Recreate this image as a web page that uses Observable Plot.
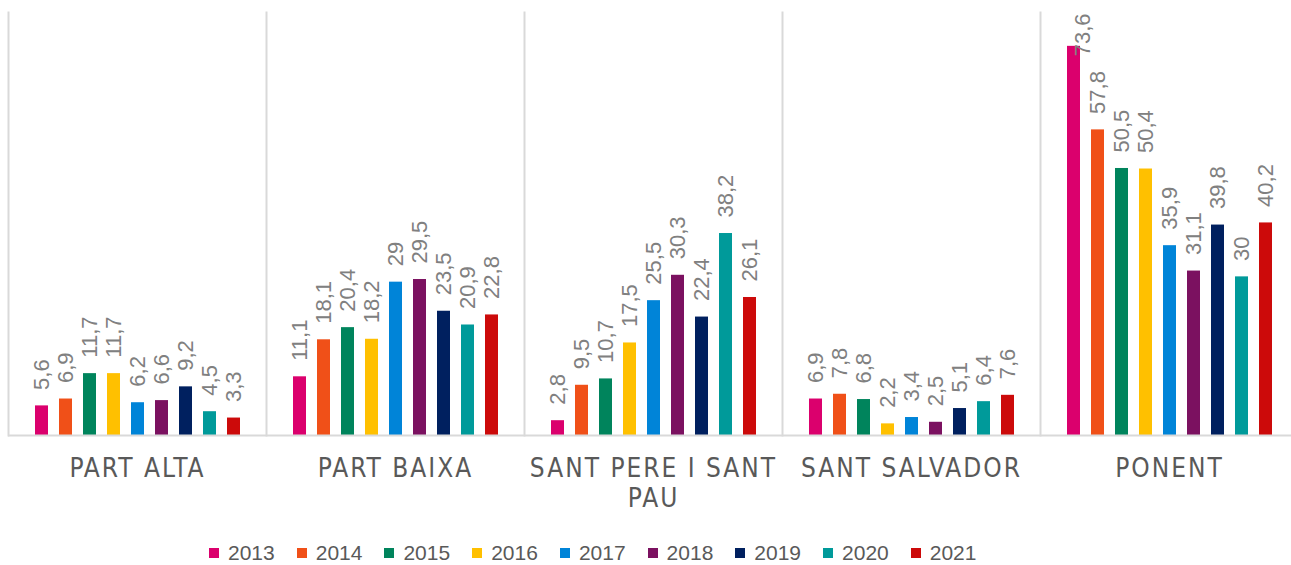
<!DOCTYPE html>
<html>
<head>
<meta charset="utf-8">
<script src="https://cdn.jsdelivr.net/npm/d3@7"></script>
<script src="https://cdn.jsdelivr.net/npm/@observablehq/plot@0.6"></script>
<style>
  html, body { margin: 0; padding: 0; background: #fff; overflow: hidden; }
  body { width: 1291px; height: 565px; font-family: "Liberation Sans", Arial, sans-serif; }
  #chart { width: 1298px; }
  #chart svg { display: block; max-width: none !important; width: 1298px; height: 525px; }
  g[aria-label="fx-axis tick label"] text { letter-spacing: 2px; font-family: "Liberation Sans Narrow", "DejaVu Sans Condensed", "Liberation Sans", sans-serif; }
  #legend { display: flex; align-items: center; height: 56px; margin-left: 209px; color: #595959; font-size: 21px; }
  #legend .item { display: flex; align-items: center; margin-right: 22px; }
  #legend .sw { width: 10px; height: 10px; margin-right: 9px; }
</style>
</head>
<body>
<div id="chart"></div>
<div id="legend"></div>
<script>
const districts = ["PART ALTA", "PART BAIXA", "SANT PERE I SANT PAU", "SANT SALVADOR", "PONENT"];
const districtLabels = ["PART ALTA", "PART BAIXA", "SANT PERE I SANT\nPAU", "SANT SALVADOR", "PONENT"];
const years = ["2013", "2014", "2015", "2016", "2017", "2018", "2019", "2020", "2021"];
const colors = ["#DB006D", "#F05018", "#00845C", "#FFC000", "#0084D8", "#7B1160", "#00205F", "#009A9A", "#CC0A0A"];

const partAlta   = [5.6, 6.9, 11.7, 11.7, 6.2, 6.6, 9.2, 4.5, 3.3];
const partBaixa  = [11.1, 18.1, 20.4, 18.2, 29, 29.5, 23.5, 20.9, 22.8];
const santPere   = [2.8, 9.5, 10.7, 17.5, 25.5, 30.3, 22.4, 38.2, 26.1];
const santSalv   = [6.9, 7.8, 6.8, 2.2, 3.4, 2.5, 5.1, 6.4, 7.6];
const ponent     = [73.6, 57.8, 50.5, 50.4, 35.9, 31.1, 39.8, 30, 40.2];

const series = [partAlta, partBaixa, santPere, santSalv, ponent];
const yMax = 80;
const labelRoom = 11;

const data = [];
districts.forEach((d, i) => years.forEach((y, j) => data.push({district: d, year: y, v: series[i][j]})));
const fmt = v => String(v).replace(".", ",");
const normal = data.filter(d => d.v <= yMax - labelRoom);
const clamped = data.filter(d => d.v > yMax - labelRoom);

const chart = Plot.plot({
  width: 1298,
  height: 525,
  marginLeft: 8,
  marginRight: 0,
  marginTop: 12,
  marginBottom: 90,
  style: {fontFamily: "'Liberation Sans', Arial, sans-serif", background: "#fff"},
  fx: {domain: districts, padding: 0, label: null},
  x: {domain: years, paddingInner: 0.46, paddingOuter: 1.1, axis: null},
  y: {domain: [0, yMax], axis: null},
  color: {domain: years, range: colors},
  marks: [
    Plot.frame({anchor: "left", stroke: "#d9d9d9", strokeWidth: 2}),
    Plot.barY(data, {fx: "district", x: "year", y: "v", fill: "year"}),
    Plot.ruleY([0], {stroke: "#d9d9d9", strokeWidth: 2}),
    Plot.text(normal, {fx: "district", x: "year", y: "v", text: d => fmt(d.v), rotate: -90, textAnchor: "start", dy: -16, fill: "#808080", fontSize: 22}),
    Plot.text(clamped, {fx: "district", x: "year", frameAnchor: "top", text: d => fmt(d.v), rotate: -90, textAnchor: "end", dy: 1, fill: "#808080", fontSize: 22}),
    Plot.axisFx({anchor: "bottom", tickSize: 0, tickPadding: 20, fontSize: 26, fill: "#595959", lineHeight: 1.15,
      tickFormat: d => districtLabels[districts.indexOf(d)], label: null})
  ]
});
document.getElementById("chart").appendChild(chart);

const legend = document.getElementById("legend");
years.forEach((y, i) => {
  const item = document.createElement("div");
  item.className = "item";
  const sw = document.createElement("span");
  sw.className = "sw";
  sw.style.background = colors[i];
  const t = document.createElement("span");
  t.textContent = y;
  item.appendChild(sw);
  item.appendChild(t);
  legend.appendChild(item);
});
</script>
</body>
</html>
